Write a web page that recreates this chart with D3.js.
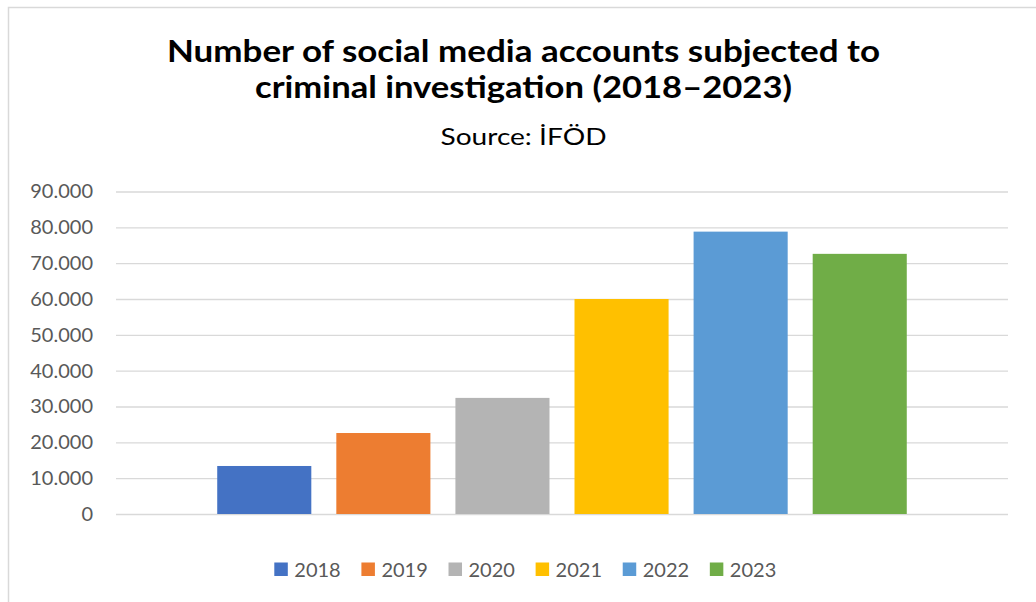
<!DOCTYPE html>
<html>
<head>
<meta charset="utf-8">
<script src="https://cdn.jsdelivr.net/npm/d3@7"></script>
<style>
  body { margin: 0; background: #fff; }
  svg { display: block; font-family: Lato, "Open Sans", sans-serif; }
</style>
</head>
<body>
<div class="chart"></div>
<script>
// data
let years = ["2018", "2019", "2020", "2021", "2022", "2023"]
let accounts = [13400, 22600, 32400, 60000, 78800, 72600]
let colors = ["#4472c4", "#ed7d31", "#b4b4b4", "#ffc000", "#5b9bd5", "#70ad47"]
let y_ticks = [0, 10000, 20000, 30000, 40000, 50000, 60000, 70000, 80000, 90000]
let title_lines = ["Number of social media accounts subjected to", "criminal investigation (2018–2023)"]
let subtitle = "Source: İFÖD"

let width = 1036
let height = 602
let margin = {top: 191.5, right: 28, bottom: 88, left: 116}
let plot_w = width - margin.left - margin.right
let plot_h = height - margin.top - margin.bottom

let svg = d3.select(".chart")
    .append("svg")
        .attr("width", width)
        .attr("height", height)

// chart area border (only top and left edges show in the crop)
svg.append("path")
    .attr("d", "M8.5,602 V7.5 H1036")
    .attr("fill", "none")
    .attr("stroke", "#d9d9d9")
    .attr("stroke-width", 1.5)

// title: Calibri is narrower/taller than Lato, so fix the widths with textLength
let title_widths = [713, 537]
let title_g = svg.append("g")
    .attr("text-anchor", "middle")
    .attr("fill", "#000")

title_g.selectAll("text.title")
    .data(title_lines)
    .enter()
    .append("text")
        .attr("class", "title")
        .attr("x", 523.5)
        .attr("y", (d, i) => 62 + i * 36)
        .attr("font-weight", "bold")
        .attr("font-size", 30.5)
        .attr("textLength", (d, i) => title_widths[i])
        .attr("lengthAdjust", "spacingAndGlyphs")
        .text(d => d)

title_g.append("text")
    .attr("x", 523.5)
    .attr("y", 145)
    .attr("font-size", 22.5)
    .attr("textLength", 166)
    .attr("lengthAdjust", "spacingAndGlyphs")
    .text(subtitle)

let g = svg.append("g")
    .attr("transform", "translate(" + margin.left + "," + margin.top + ")")

let x = d3.scaleBand()
    .domain(years)
    .range([0, plot_w])
    .paddingInner(0.21)
    .paddingOuter(0.85)

let y = d3.scaleLinear()
    .domain([0, 90000])
    .range([plot_h, 0])

let fmt = d => d3.format(",")(d).replace(/,/g, ".")

// gridlines + tick labels
let y_axis = g.append("g")
    .call(d3.axisLeft(y)
        .tickValues(y_ticks)
        .tickSize(-plot_w)
        .tickPadding(23)
        .tickFormat(fmt))

y_axis.select(".domain").remove()
y_axis.selectAll(".tick line")
    .attr("stroke", "#d9d9d9")
    .attr("stroke-width", 1.3)
y_axis.selectAll(".tick text")
    .attr("fill", "#595959")
    .attr("font-size", 20)
    .attr("font-family", "Lato, sans-serif")

g.append("g")
    .selectAll("rect")
    .data(years)
    .enter()
    .append("rect")
        .attr("x", d => x(d))
        .attr("y", (d, i) => y(accounts[i]))
        .attr("width", x.bandwidth())
        .attr("height", (d, i) => plot_h - y(accounts[i]))
        .attr("fill", (d, i) => colors[i])

// legend
let legend = svg.append("g")
    .attr("transform", "translate(0,562.5)")

let items = legend.selectAll("g")
    .data(years)
    .enter()
    .append("g")

items.append("rect")
    .attr("width", 13.5)
    .attr("height", 13.5)
    .attr("fill", (d, i) => colors[i])

items.append("text")
    .attr("x", 20)
    .attr("y", 14.2)
    .attr("font-size", 20)
    .attr("fill", "#595959")
    .text(d => d)

let pos = 274.3
items.each(function(d) {
    let w = d3.select(this).select("text").node().getComputedTextLength()
    d3.select(this).attr("transform", "translate(" + pos + ",0)")
    pos += 20 + w + 20.7
})
</script>
</body>
</html>
